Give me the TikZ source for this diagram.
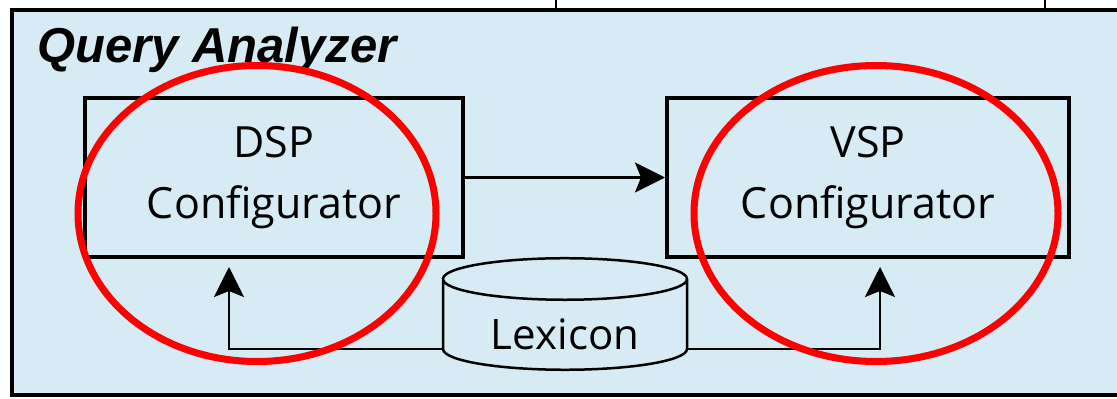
\documentclass[tikz,border=0pt]{standalone}
\usepackage{fontspec}
\setsansfont{Open Sans}
\newfontfamily\titlefont{Liberation Sans}
\usetikzlibrary{shapes.geometric,arrows.meta,calc}
\definecolor{panel}{RGB}{214,235,243}
\definecolor{mark}{RGB}{255,0,0}
\begin{document}
\begin{tikzpicture}[x=1pt,y=-1pt,
  comp/.style={draw=black, line width=4pt, minimum width=378pt, minimum height=159pt,
    align=center, font=\sffamily\fontsize{43}{61}\selectfont, inner sep=0pt},
  flow/.style={draw=black, line width=2.5pt,
    -{Stealth[length=30pt,width=30pt,inset=6pt]}},
  ring/.style={draw=mark, line width=7pt, ellipse, inner sep=0pt},
]
\useasboundingbox (0,0) rectangle (1117,399);
\fill[white] (0,0) rectangle (1117,399);
% panel of the analyzer, running off the right edge
\begin{scope}
  \clip (0,0) rectangle (1117,399);
  \draw[line width=4pt, fill=panel] (12,10) rectangle (1135,395);
  \draw[line width=2pt] (556,10) -- (556,-5) (1045,10) -- (1045,-5);
\end{scope}

\node[anchor=base west, inner sep=0pt,
  font=\titlefont\bfseries\itshape\fontsize{49}{50}\selectfont] (title) at (37,62) {Query Analyzer};

\node[comp] (dsp) at (274,177.5) {DSP\\Configurator};
\node[comp, minimum width=402pt] (vsp) at (868,177.5) {VSP\\Configurator};

\node[cylinder, shape border rotate=90, draw=black, line width=2.5pt, fill=panel,
  minimum width=244pt, minimum height=104pt, aspect=0.28, inner sep=0pt,
  text height=48pt, text depth=0pt,
  font=\sffamily\fontsize{42}{50}\selectfont] (lex) at (565,325) {Lexicon};

\draw[flow] (dsp.east) -- (vsp.west);
\draw[flow, shorten >=8pt] ([shift={(-122,24)}]lex.center) -| ([xshift=-45pt]dsp.south);
\draw[flow, shorten >=8pt] ([shift={(122,24)}]lex.center) -| ([xshift=12pt]vsp.south);

% highlight rings
\node[ring, minimum width=358pt, minimum height=296pt] (ringL) at (257,213.5) {};
\node[ring, minimum width=364pt, minimum height=296pt] (ringR) at (876,213.5) {};
\end{tikzpicture}
\end{document}
